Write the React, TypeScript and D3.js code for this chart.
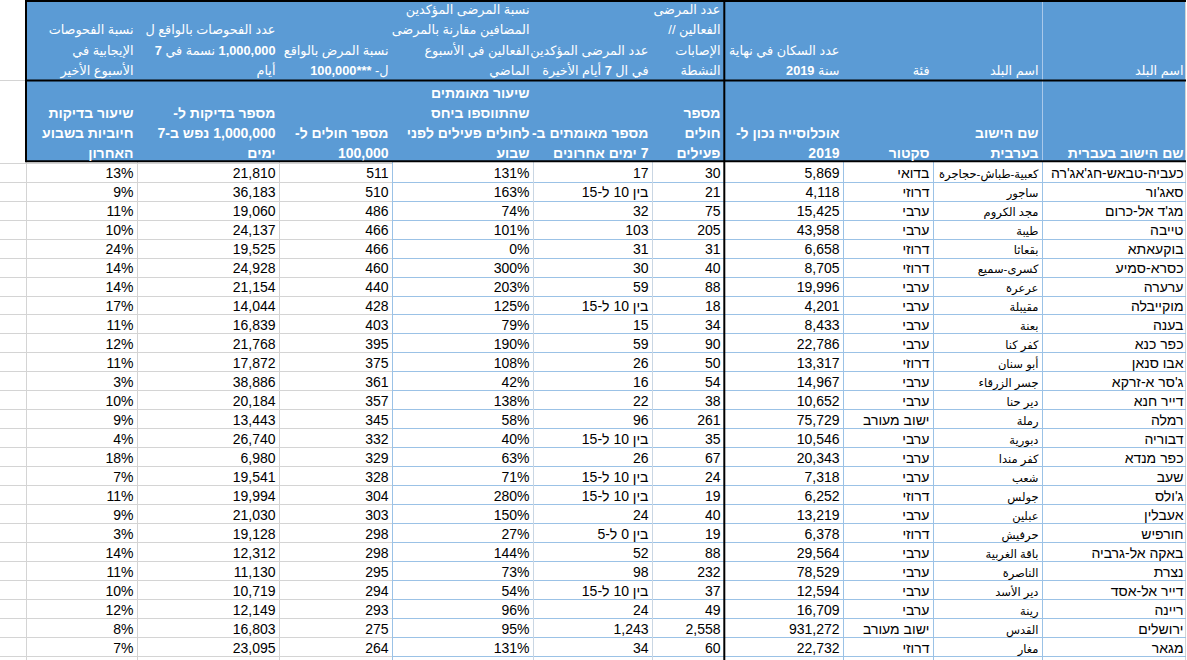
import React, { useEffect, useRef } from "react";
import * as d3 from "d3";

// rows, top to bottom
const hebrewNames = [
  "כעביה-טבאש-חג'אג'רה", "סאג'ור", "מג'ד אל-כרום", "טייבה", "בוקעאתא", "כסרא-סמיע",
  "ערערה", "מוקייבלה", "בענה", "כפר כנא", "אבו סנאן", "ג'סר א-זרקא", "דייר חנא",
  "רמלה", "דבוריה", "כפר מנדא", "שעב", "ג'ולס", "אעבלין", "חורפיש", "באקה אל-גרביה",
  "נצרת", "דייר אל-אסד", "ריינה", "ירושלים", "מגאר",
];
const arabicNames = [
  "كعبية-طباش-حجاجرة", "ساجور", "مجد الكروم", "طيبة", "بقعاثا", "كسرى-سميع",
  "عرعرة", "مقيبلة", "بعنة", "كفر كنا", "أبو سنان", "جسر الزرقاء", "دير حنا",
  "رملة", "دبورية", "كفر مندا", "شعب", "جولس", "عبلين", "حرفيش", "باقة الغربية",
  "الناصرة", "دير الأسد", "رينة", "القدس", "مغار",
];
const sectors = [
  "בדואי", "דרוזי", "ערבי", "ערבי", "דרוזי", "דרוזי", "ערבי", "ערבי", "ערבי", "ערבי",
  "דרוזי", "ערבי", "ערבי", "ישוב מעורב", "ערבי", "ערבי", "ערבי", "דרוזי", "ערבי",
  "דרוזי", "ערבי", "ערבי", "ערבי", "ערבי", "ישוב מעורב", "דרוזי",
];
const population = [
  5869, 4118, 15425, 43958, 6658, 8705, 19996, 4201, 8433, 22786, 13317, 14967, 10652,
  75729, 10546, 20343, 7318, 6252, 13219, 6378, 29564, 78529, 12594, 16709, 931272, 22732,
];
const activeCases = [
  30, 21, 75, 205, 31, 40, 88, 18, 34, 90, 50, 54, 38, 261, 35, 67, 24, 19, 40, 19, 88,
  232, 37, 49, 2558, 60,
];
const newCases7d: (number | string)[] = [
  17, "בין 10 ל-15", 32, 103, 31, 30, 59, "בין 10 ל-15", 15, 59, 26, 16, 22, 96,
  "בין 10 ל-15", 26, "בין 10 ל-15", "בין 10 ל-15", 24, "בין 0 ל-5", 52, 98,
  "בין 10 ל-15", 24, 1243, 34,
];
const growthPct = [
  131, 163, 74, 101, 0, 300, 203, 125, 79, 190, 108, 42, 138, 58, 40, 63, 71, 280, 150,
  27, 144, 73, 54, 96, 95, 131,
];
const ratePer100k = [
  511, 510, 486, 466, 466, 460, 440, 428, 403, 395, 375, 361, 357, 345, 332, 329, 328,
  304, 303, 298, 298, 295, 294, 293, 275, 264,
];
const testsPerMillion = [
  21810, 36183, 19060, 24137, 19525, 24928, 21154, 14044, 16839, 21768, 17872, 38886,
  20184, 13443, 26740, 6980, 19541, 19994, 21030, 19128, 12312, 11130, 10719, 12149,
  16803, 23095,
];
const positivePct = [
  13, 9, 11, 10, 24, 14, 14, 17, 11, 12, 11, 3, 10, 9, 4, 18, 7, 11, 9, 3, 14, 11, 10,
  12, 8, 7,
];

// header texts, columns left to right
const headerArabic = [
  ["نسبة الفحوصات", "الإيجابية في", "الأسبوع الأخير"],
  ["عدد الفحوصات بالواقع ل", "1,000,000 نسمة في 7", "أيام"],
  ["نسبة المرض بالواقع", "ل- ***100,000"],
  ["نسبة المرضى المؤكدين", "المضافين مقارنة بالمرضى", "الفعالين في الأسبوع", "الماضي"],
  ["عدد المرضى المؤكدين", "في ال 7 أيام الأخيرة"],
  ["عدد المرضى", "الفعالين //", "الإصابات", "النشطة"],
  ["عدد السكان في نهاية", "سنة 2019"],
  ["فئة"],
  ["اسم البلد"],
  ["اسم البلد"],
];
const headerHebrew = [
  ["שיעור בדיקות", "חיוביות בשבוע", "האחרון"],
  ["מספר בדיקות ל-", "1,000,000 נפש ב-7", "ימים"],
  ["מספר חולים ל-", "100,000"],
  ["שיעור מאומתים", "שהתווספו ביחס", "לחולים פעילים לפני", "שבוע"],
  ["מספר מאומתים ב-", "7 ימים אחרונים"],
  ["מספר", "חולים", "פעילים"],
  ["אוכלוסייה נכון ל-", "2019"],
  ["סקטור"],
  ["שם הישוב", "בערבית"],
  ["שם הישוב בעברית"],
];

const W = 1187;
const H = 660;
const edges = [0, 26, 137, 279, 392, 533, 652, 724, 843, 933, 1042, 1187];
const BLUE = "#5b9bd5";
const FONT = "'Liberation Sans', Arial, 'DejaVu Sans', sans-serif";

const isRtl = (s: string) => /[\u0590-\u08ff]/.test(s);
const rtl = (s: string) => (isRtl(s) ? "\u202B" + s + "\u202C" : s);

export default function App() {
  const ref = useRef<SVGSVGElement>(null);

  useEffect(() => {
    const svg = d3.select(ref.current);
    svg.selectAll("*").remove();

    const fmt = d3.format(",");
    const pct = (d: number) => d + "%";
    const columns: string[][] = [
      positivePct.map(pct),
      testsPerMillion.map(fmt),
      ratePer100k.map(String),
      growthPct.map(pct),
      newCases7d.map((d) => (typeof d === "number" ? fmt(d) : d)),
      activeCases.map(fmt),
      population.map(fmt),
      sectors,
      arabicNames,
      hebrewNames,
    ];

    const y = d3.scaleBand<number>().domain(d3.range(hebrewNames.length)).range([162.7, 656]);
    const rowLines = d3.range(hebrewNames.length + 1).map((i) => 162.7 + i * y.step());

    svg.append("rect").attr("width", W).attr("height", H).attr("fill", "#fff");

    // header background
    svg.append("rect").attr("x", 26).attr("y", 0).attr("width", 1185 - 26).attr("height", 162).attr("fill", BLUE);

    // gray grid (left, unformatted part)
    const g = svg.append("g").attr("shape-rendering", "crispEdges");
    g.selectAll("line.hg")
      .data(rowLines)
      .join("line")
      .attr("x1", 0)
      .attr("x2", 392)
      .attr("y1", (d) => Math.round(d) + 0.5)
      .attr("y2", (d) => Math.round(d) + 0.5)
      .attr("stroke", "#d4d4d4");
    g.append("line").attr("x1", 0).attr("x2", 26).attr("y1", 80.5).attr("y2", 80.5).attr("stroke", "#d4d4d4");
    g.selectAll("line.vg")
      .data([26, 137, 279])
      .join("line")
      .attr("x1", (d) => d + 0.5)
      .attr("x2", (d) => d + 0.5)
      .attr("y1", 162)
      .attr("y2", H)
      .attr("stroke", "#d4d4d4");
    g.append("line").attr("x1", 1185.5).attr("x2", 1185.5).attr("y1", 0).attr("y2", H).attr("stroke", "#d4d4d4");

    // blue table grid
    g.selectAll("line.hb")
      .data(rowLines.slice(1))
      .join("line")
      .attr("x1", 392)
      .attr("x2", 1186)
      .attr("y1", (d) => Math.round(d) + 0.5)
      .attr("y2", (d) => Math.round(d) + 0.5)
      .attr("stroke", "#9bc2e6");
    g.selectAll("line.vb")
      .data([392, 533, 652, 843, 933, 1042])
      .join("line")
      .attr("x1", (d) => d + 0.5)
      .attr("x2", (d) => d + 0.5)
      .attr("y1", 162)
      .attr("y2", H)
      .attr("stroke", (d) => (d === 533 || d === 652 ? "#c9d6e3" : "#9bc2e6"));
    g.append("line").attr("x1", 1042.5).attr("x2", 1042.5).attr("y1", 0).attr("y2", 162).attr("stroke", "#a9c8ea");

    // thick black borders
    const b = svg.append("g").attr("stroke", "#000").attr("stroke-width", 2);
    [1, 80.5, 161.3].forEach((yy) => b.append("line").attr("x1", 25).attr("x2", 1186).attr("y1", yy).attr("y2", yy));
    b.append("line").attr("x1", 26).attr("x2", 26).attr("y1", 0).attr("y2", 162);
    b.append("line").attr("x1", 724.3).attr("x2", 724.3).attr("y1", 0).attr("y2", H);

    const textRight = edges.slice(2).map((e) => e - 3.5);

    // header row 1 (arabic): numbers in bold
    const hA = svg.append("g").attr("fill", "#fff").attr("font-family", FONT).attr("font-size", 12.8).attr("text-anchor", "end");
    headerArabic.forEach((lines, c) => {
      lines.forEach((t, k) => {
        const txt = hA.append("text")
          .attr("x", textRight[c])
          .attr("y", 75 - (lines.length - 1 - k) * 20.3);
        const parts = t.split(/([\d,*]+)/).filter((s) => s.length);
        parts.forEach((s, j) => {
          const label = (j === 0 ? "\u202B" : "") + s + (j === parts.length - 1 ? "\u202C" : "");
          txt.append("tspan")
            .attr("font-weight", /^[\d,*]+$/.test(s) ? "bold" : "normal")
            .text(label);
        });
      });
    });

    // header row 2 (hebrew)
    const hH = svg.append("g").attr("fill", "#fff").attr("font-family", FONT).attr("font-size", 14).attr("font-weight", "bold").attr("text-anchor", "end");
    headerHebrew.forEach((lines, c) => {
      lines.forEach((t, k) => {
        hH.append("text")
          .attr("x", textRight[c])
          .attr("y", 157.5 - (lines.length - 1 - k) * 19.8)
          .text(rtl(t));
      });
    });

    // body text
    const body = svg.append("g").attr("fill", "#000").attr("font-family", FONT).attr("text-anchor", "end");
    columns.forEach((vals, c) => {
      body.append("g")
        .selectAll("text")
        .data(vals)
        .join("text")
        .attr("x", textRight[c])
        .attr("y", (_, i) => (y(i) as number) + 15.5)
        .attr("font-size", c === 8 ? 11.5 : 14)
        .text((d) => rtl(d));
    });
  }, []);

  return (
    <svg
      ref={ref}
      width={W}
      height={H}
      style={{ position: "absolute", left: 0, top: 0, display: "block" }}
    />
  );
}
